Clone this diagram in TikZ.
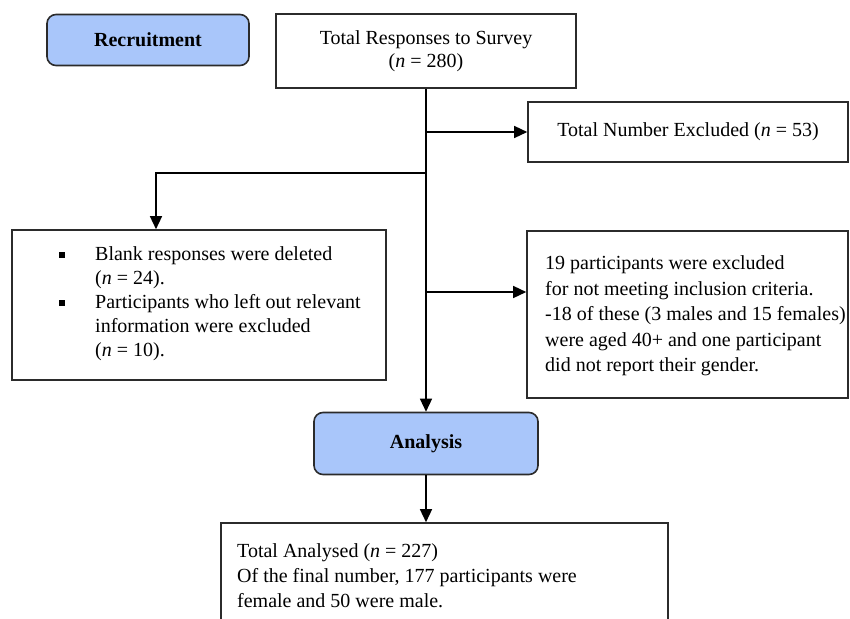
\documentclass[tikz,border=0pt]{standalone}
\usepackage{fontspec}
\setmainfont{Liberation Serif}
\usetikzlibrary{arrows.meta}
\definecolor{phaseblue}{HTML}{A9C6FA}
\definecolor{edgegray}{HTML}{2B2B2B}
\newcommand{\sqbullet}{\makebox[36pt][l]{\raisebox{3pt}{\rule{6pt}{6pt}}}}
\tikzset{
  box/.style={draw=edgegray, line width=1.6pt, inner sep=0pt},
  phase/.style={box, rounded corners=9pt, fill=phaseblue, font=\fontsize{20}{24}\selectfont\bfseries},
  txt/.style={inner sep=0pt, align=left, anchor=west},
  flow/.style={line width=1.4pt, -{Triangle[length=13pt,width=12pt]}},
}
\begin{document}
\begin{tikzpicture}[x=1pt,y=-1pt,font=\fontsize{20}{24}\selectfont]
	\useasboundingbox (0,0) rectangle (850,618);
	\node[phase, minimum width=202, minimum height=51] (rec) at (148,40) {Recruitment};
	\node[box, minimum width=300, minimum height=74, align=center, font=\fontsize{20}{23}\selectfont] (tot) at (426,51) {Total Responses to Survey\\(\textit{n} = 280)};
	\node[box, minimum width=320, minimum height=60] (exc) at (688,132) {Total Number Excluded (\textit{n} = 53)};
	\node[box, minimum width=374, minimum height=150] (blank) at (199,305) {};
	\node[txt] (blanktxt) at (59,304) {\sqbullet Blank responses were deleted\\
		\hspace*{36pt}(\textit{n} = 24).\\
		\sqbullet Participants who left out relevant\\
		\hspace*{36pt}information were excluded\\
		\hspace*{36pt}(\textit{n} = 10).};
	\node[box, minimum width=321, minimum height=167] (crit) at (687.5,314.5) {};
	\node[txt, font=\fontsize{20}{25.5}\selectfont] (crittxt) at (545,316) {19 participants were excluded\\
		for not meeting inclusion criteria.\\
		-18 of these (3 males and 15 females)\\
		were aged 40+ and one participant\\
		did not report their gender.};
	\node[phase, minimum width=224, minimum height=62] (ana) at (426,443.5) {Analysis};
	\node[box, minimum width=447, minimum height=122] (final) at (444.5,584) {};
	\node[txt, font=\fontsize{20}{25}\selectfont] (finaltxt) at (237,576) {Total Analysed (\textit{n} = 227)\\
		Of the final number, 177 participants were\\
		female and 50 were male.};
	% connectors
	\coordinate (lft) at (156,173);
	\coordinate (rgt) at (426,292);
	\draw[flow] (tot.south) -- (ana.north);
	\draw[flow] (tot.south |- exc.west) -- (exc.west);
	\draw[flow] (tot.south |- lft) -| (lft |- blank.north);
	\draw[flow] (rgt) -- (rgt -| crit.west);
	\draw[flow] (ana.south) -- (ana.south |- final.north);
\end{tikzpicture}
\end{document}
